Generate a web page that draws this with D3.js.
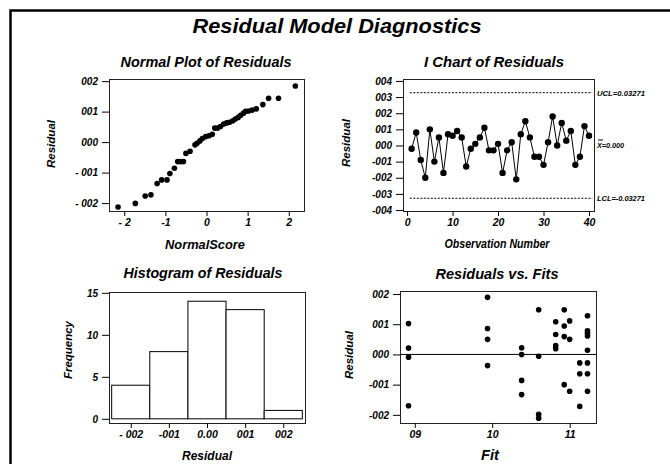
<!DOCTYPE html>
<html>
<head>
<meta charset="utf-8">
<script src="https://cdn.jsdelivr.net/npm/d3@7"></script>
<style>
  body { margin: 0; background: #fff; }
  svg text { font-family: "Liberation Sans", Arial, sans-serif; font-weight: bold; font-style: italic; fill: #000; }
  .frame { fill: none; stroke: #222; stroke-width: 1; }
  .tick line { stroke: #000; }
</style>
</head>
<body>
<div id="chart"></div>
<script>
// normal probability plot (score, residual)
var normalScores = [-2.15, -1.73, -1.49, -1.35, -1.20, -1.09, -0.96, -0.89, -0.78, -0.70, -0.63, -0.56, -0.50, -0.40,
    -0.28, -0.23, -0.16, -0.10, -0.02, 0.06, 0.14, 0.20, 0.27, 0.34, 0.42, 0.49, 0.56, 0.64, 0.70, 0.77,
    0.83, 0.90, 0.95, 1.02, 1.11, 1.21, 1.37, 1.51, 1.75, 2.16];
var normalResiduals = [-0.00213, -0.00201, -0.00177, -0.00173, -0.00136, -0.00124, -0.00124, -0.00103, -0.00086, -0.00064,
    -0.00064, -0.00064, -0.00037, -0.00030, -0.00009, -0.00004, 0.00004, 0.00012, 0.00018, 0.00021,
    0.00026, 0.00046, 0.00046, 0.00051, 0.00059, 0.00063, 0.00065, 0.00070, 0.00076, 0.00081,
    0.00088, 0.00095, 0.00101, 0.00102, 0.00105, 0.00109, 0.00123, 0.00144, 0.00144, 0.00184];

// I chart
var observations = d3.range(1, 41);
var chartResiduals = [-0.0002, 0.0008, -0.0009, -0.0020, 0.0010, -0.0010, 0.0005, -0.0017, 0.0007, 0.0006,
    0.0009, 0.0005, -0.0013, -0.0002, 0.0001, 0.0005, 0.0011, -0.0003, -0.0003, 0.0001,
    -0.0017, -0.0003, 0.0002, -0.0021, 0.0007, 0.0015, 0.0005, -0.0007, -0.0007, -0.0012,
    0.0002, 0.0018, 0.0000, 0.0014, 0.0003, 0.0009, -0.0012, -0.0007, 0.0012, 0.0006];
var ucl = 0.00327, lcl = -0.00327;
var limitLabels = ["UCL=0.03271", "X=0.000", "LCL=-0.03271"];

// histogram
var histMids = [-0.002, -0.001, 0, 0.001, 0.002];
var histCounts = [4, 8, 14, 13, 1];
var binWidth = 0.001;

// residuals vs fits
var fits = [0.0892, 0.0892, 0.0892, 0.0892,
    0.0994, 0.0994, 0.0994, 0.0994,
    0.1038, 0.1038, 0.1038, 0.1038,
    0.1060, 0.1060, 0.1060, 0.1060,
    0.1082, 0.1082, 0.1082, 0.1082,
    0.1093, 0.1093, 0.1093, 0.1093,
    0.1100, 0.1100, 0.1100,
    0.1113, 0.1113, 0.1113,
    0.1123, 0.1123, 0.1123, 0.1123, 0.1123, 0.1123, 0.1123, 0.1123];
var fitResiduals = [0.00102, 0.00021, -0.00009, -0.00170,
    0.00189, 0.00086, 0.00050, -0.00037,
    0.00022, 0.00000, -0.00086, -0.00133,
    0.00148, -0.00006, -0.00198, -0.00211,
    0.00108, 0.00066, 0.00029, 0.00019,
    0.00148, 0.00094, 0.00059, -0.00100,
    0.00111, 0.00050, -0.00122,
    -0.00028, -0.00064, -0.00172,
    0.00128, 0.00078, 0.00070, 0.00061, 0.00014, -0.00028, -0.00064, -0.00122];

// tick labels
var p1yTicks = [0.002, 0.001, 0, -0.001, -0.002], p1yLabels = ["002", "001", "000", "- 001", "- 002"];
var p1xTicks = [-2, -1, 0, 1, 2], p1xLabels = ["- 2", "-1", "0", "1", "2"];
var p2yTicks = [0.004, 0.003, 0.002, 0.001, 0, -0.001, -0.002, -0.003, -0.004],
    p2yLabels = ["004", "003", "002", "001", "000", "-001", "-002", "-003", "-004"];
var p2xTicks = [0, 10, 20, 30, 40], p2xLabels = ["0", "10", "20", "30", "40"];
var p3yTicks = [0, 5, 10, 15], p3yLabels = ["0", "5", "10", "15"];
var p3xTicks = [-0.002, -0.001, 0, 0.001, 0.002], p3xLabels = ["- 002", "-001", "0.00", "001", "002"];
var p4yTicks = [0.002, 0.001, 0, -0.001, -0.002], p4yLabels = ["002", "001", "000", "-001", "-002"];
var p4xTicks = [0.09, 0.10, 0.11], p4xLabels = ["09", "10", "11"];

var svg = d3.select("#chart").append("svg")
    .attr("width", 670)
    .attr("height", 464);

svg.append("rect")
    .attr("x", 10.5).attr("y", 10.5)
    .attr("width", 700).attr("height", 500)
    .attr("fill", "none").attr("stroke", "#000").attr("stroke-width", 2.5);

svg.append("text")
    .attr("x", 337).attr("y", 33)
    .attr("text-anchor", "middle")
    .attr("font-size", 21)
    .attr("textLength", 289).attr("lengthAdjust", "spacingAndGlyphs")
    .text("Residual Model Diagnostics");

function labelFmt(ticks, labels) {
    return function (d) { return labels[ticks.indexOf(d)]; };
}

function panel(box, xs, ys, xt, xl, yt, yl) {
    var g = svg.append("g");
    g.append("rect").attr("class", "frame")
        .attr("x", box.x + 0.5).attr("y", box.y + 0.5)
        .attr("width", box.w).attr("height", box.h);
    g.append("g")
        .attr("transform", "translate(" + box.x + ",0)")
        .call(d3.axisLeft(ys).tickValues(yt).tickFormat(labelFmt(yt, yl)).tickSize(7).tickPadding(4))
        .call(function (a) { a.select(".domain").remove(); })
        .selectAll("text").attr("font-size", 10).attr("font-family", null);
    g.append("g")
        .attr("transform", "translate(0," + (box.y + box.h) + ")")
        .call(d3.axisBottom(xs).tickValues(xt).tickFormat(labelFmt(xt, xl)).tickSize(5).tickPadding(3))
        .call(function (a) { a.select(".domain").remove(); })
        .selectAll("text").attr("font-size", 10.5).attr("font-family", null);
    return g;
}

function label(x, y, size, width, txt, rotate) {
    var t = svg.append("text")
        .attr("text-anchor", "middle")
        .attr("font-size", size)
        .attr("textLength", width).attr("lengthAdjust", "spacingAndGlyphs")
        .text(txt);
    if (rotate) t.attr("transform", "translate(" + x + "," + y + ") rotate(-90)");
    else t.attr("x", x).attr("y", y);
    return t;
}

// ---- Normal plot
var b1 = {x: 109, y: 79, w: 195, h: 132};
var x1 = d3.scaleLinear().domain([-2.37, 2.37]).range([b1.x, b1.x + b1.w]);
var y1 = d3.scaleLinear().domain([-0.00226, 0.00207]).range([b1.y + b1.h, b1.y]);
var g1 = panel(b1, x1, y1, p1xTicks, p1xLabels, p1yTicks, p1yLabels);
g1.selectAll("circle.pt")
    .data(normalScores)
    .enter().append("circle")
    .attr("cx", function (d) { return x1(d); })
    .attr("cy", function (d, i) { return y1(normalResiduals[i]); })
    .attr("r", 2.8);
label(206, 67, 15, 171, "Normal Plot of Residuals");
label(205, 249, 12, 80, "NormalScore");
label(55, 144, 11, 48, "Residual", true);

// ---- I chart
var b2 = {x: 403, y: 79, w: 191, h: 132};
var x2 = d3.scaleLinear().domain([-0.9, 41.1]).range([b2.x, b2.x + b2.w]);
var y2 = d3.scaleLinear().domain([-0.00406, 0.00412]).range([b2.y + b2.h, b2.y]);
var g2 = panel(b2, x2, y2, p2xTicks, p2xLabels, p2yTicks, p2yLabels);
[ucl, lcl].forEach(function (v) {
    g2.append("line")
        .attr("x1", x2(0.6)).attr("x2", x2(40.7))
        .attr("y1", y2(v)).attr("y2", y2(v))
        .attr("stroke", "#000").attr("stroke-width", 1)
        .attr("stroke-dasharray", "2,1.5");
});
g2.append("path")
    .datum(chartResiduals)
    .attr("fill", "none").attr("stroke", "#000").attr("stroke-width", 1)
    .attr("d", d3.line()
        .x(function (d, i) { return x2(observations[i]); })
        .y(function (d) { return y2(d); }));
g2.selectAll("circle.pt")
    .data(chartResiduals)
    .enter().append("circle")
    .attr("cx", function (d, i) { return x2(observations[i]); })
    .attr("cy", function (d) { return y2(d); })
    .attr("r", 3.2);
[ucl, 0, lcl].forEach(function (v, i) {
    svg.append("text")
        .attr("x", b2.x + b2.w + 3).attr("y", y2(v) + 3)
        .attr("font-size", 7)
        .attr("textLength", i == 1 ? 27 : 48).attr("lengthAdjust", "spacingAndGlyphs")
        .text(limitLabels[i]);
});
svg.append("line")
    .attr("x1", b2.x + b2.w + 4).attr("x2", b2.x + b2.w + 9)
    .attr("y1", y2(0) - 5.5).attr("y2", y2(0) - 5.5)
    .attr("stroke", "#000").attr("stroke-width", 1);
label(494, 67, 15, 140, "I Chart of Residuals");
label(497, 248, 12, 105, "Observation Number");
label(350, 143, 11, 48, "Residual", true);

// ---- Histogram
var b3 = {x: 109, y: 292, w: 196, h: 131};
var x3 = d3.scaleLinear().domain([-0.00257, 0.00257]).range([b3.x, b3.x + b3.w]);
var y3 = d3.scaleLinear().domain([-0.5, 15.1]).range([b3.y + b3.h, b3.y]);
var g3 = panel(b3, x3, y3, p3xTicks, p3xLabels, p3yTicks, p3yLabels);
g3.selectAll("rect.bar")
    .data(histCounts)
    .enter().append("rect")
    .attr("class", "bar")
    .attr("x", function (d, i) { return x3(histMids[i] - binWidth / 2); })
    .attr("width", function (d, i) { return x3(histMids[i] + binWidth / 2) - x3(histMids[i] - binWidth / 2); })
    .attr("y", function (d) { return y3(d); })
    .attr("height", function (d) { return y3(0) - y3(d); })
    .attr("fill", "#fff").attr("stroke", "#000").attr("stroke-width", 1);
label(203, 278, 15, 159, "Histogram of Residuals");
label(207, 460, 13, 50, "Residual");
label(72, 350, 11, 58, "Frequency", true);

// ---- Residuals vs fits
var b4 = {x: 400, y: 291, w: 196, h: 132};
var x4 = d3.scaleLinear().domain([0.0881, 0.1134]).range([b4.x, b4.x + b4.w]);
var y4 = d3.scaleLinear().domain([-0.00227, 0.0021]).range([b4.y + b4.h, b4.y]);
var g4 = panel(b4, x4, y4, p4xTicks, p4xLabels, p4yTicks, p4yLabels);
g4.append("line")
    .attr("x1", b4.x).attr("x2", b4.x + b4.w)
    .attr("y1", y4(0)).attr("y2", y4(0))
    .attr("stroke", "#000").attr("stroke-width", 1);
g4.selectAll("circle.pt")
    .data(fits)
    .enter().append("circle")
    .attr("cx", function (d) { return x4(d); })
    .attr("cy", function (d, i) { return y4(fitResiduals[i]); })
    .attr("r", 2.8);
label(497, 279, 15, 123, "Residuals vs. Fits");
label(490, 460, 14, 18, "Fit");
label(353, 355, 11, 48, "Residual", true);
</script>
</body>
</html>
